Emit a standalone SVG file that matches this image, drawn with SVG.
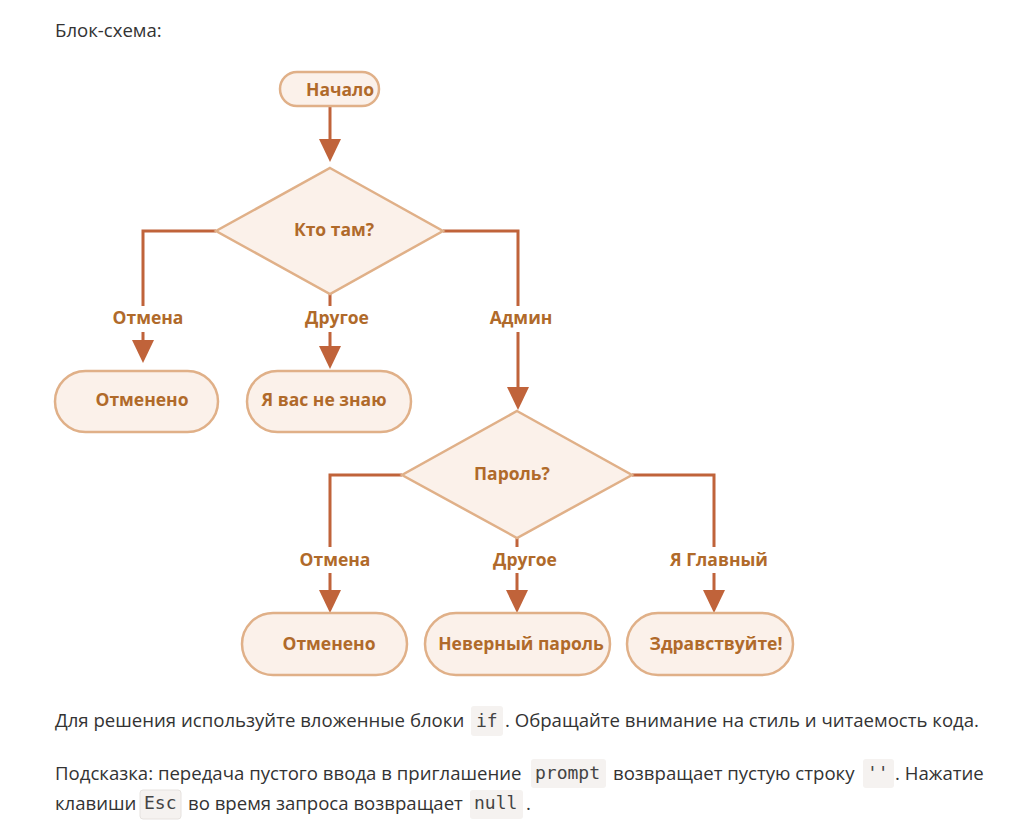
<svg xmlns="http://www.w3.org/2000/svg" width="1025" height="840" viewBox="0 0 1025 840">
<style>
.node{fill:#fbf1ea;stroke:#e0b088;stroke-width:2.5}
.nt{font-family:"Open Sans","Liberation Sans",sans-serif;font-weight:bold;font-size:17.5px;fill:#b06a2a;dominant-baseline:central}
.lbl{font-family:"Open Sans","Liberation Sans",sans-serif;font-weight:bold;font-size:17.5px;fill:#b06a2a;text-anchor:middle;dominant-baseline:central}
.ln{fill:none;stroke:#c0633a;stroke-width:3}
.ah{fill:#c0633a}
.body{font-family:"Open Sans","Liberation Sans",sans-serif;font-size:18.6px;fill:#333}
.code{font-family:"DejaVu Sans Mono","Liberation Mono",monospace;font-size:18px;fill:#444}
.cbg{fill:#f5f2f0}
</style>
<rect width="1025" height="840" fill="#ffffff"/>
<text class="body" x="55" y="37">Блок-схема:</text>

<g id="connectors">
<path class="ln" d="M330 106V140"/>
<polygon class="ah" points="319,139 341,139 330,162"/>
<path class="ln" d="M216 231H143V306M143 332V341"/>
<polygon class="ah" points="132,340 154,340 143,363"/>
<path class="ln" d="M330 294V306M330 332V347"/>
<polygon class="ah" points="319,346 341,346 330,369"/>
<path class="ln" d="M443 231H518V306M518 332V388"/>
<polygon class="ah" points="507,387 529,387 518,410"/>
<path class="ln" d="M402 475H330V547M330 573V591"/>
<polygon class="ah" points="319,590 341,590 330,613"/>
<path class="ln" d="M517 538V547M517 573V591"/>
<polygon class="ah" points="506,590 528,590 517,613"/>
<path class="ln" d="M632 475H714V547M714 573V591"/>
<polygon class="ah" points="703,590 725,590 714,613"/>
<text class="lbl" x="148" y="317">Отмена</text>
<text class="lbl" x="337" y="317">Другое</text>
<text class="lbl" x="521" y="317">Админ</text>
<text class="lbl" x="335" y="559">Отмена</text>
<text class="lbl" x="525" y="559">Другое</text>
<text class="lbl" x="719" y="559">Я Главный</text>
</g>

<g id="start">
<rect class="node" x="280" y="72" width="99" height="34" rx="17"/>
<text class="nt" x="306" y="89">Начало</text>
</g>
<g id="who">
<polygon class="node" points="330,168 443,231 330,294 216,231"/>
<text class="nt" x="334" y="229" text-anchor="middle">Кто там?</text>
</g>
<g id="cancel1">
<rect class="node" x="55" y="371" width="163" height="61" rx="30.5"/>
<text class="nt" x="142" y="399" text-anchor="middle">Отменено</text>
</g>
<g id="unknown">
<rect class="node" x="247" y="371" width="164" height="61" rx="30.5"/>
<text class="nt" x="324" y="399" text-anchor="middle">Я вас не знаю</text>
</g>
<g id="password">
<polygon class="node" points="517,411 632,475 517,538 402,475"/>
<text class="nt" x="512" y="473" text-anchor="middle">Пароль?</text>
</g>
<g id="cancel2">
<rect class="node" x="242" y="613" width="165" height="62" rx="31"/>
<text class="nt" x="329" y="643" text-anchor="middle">Отменено</text>
</g>
<g id="wrong">
<rect class="node" x="425" y="613" width="185" height="62" rx="31"/>
<text class="nt" x="521" y="643" text-anchor="middle">Неверный пароль</text>
</g>
<g id="hello">
<rect class="node" x="627" y="613" width="166" height="62" rx="31"/>
<text class="nt" x="716" y="643" text-anchor="middle">Здравствуйте!</text>
</g>

<rect class="cbg" x="471" y="706" width="32" height="30" rx="3"/>
<text class="body" x="55" y="727">Для решения используйте вложенные блоки</text>
<text class="code" x="476" y="727">if</text>
<text class="body" x="505" y="727">. Обращайте внимание на стиль и читаемость кода.</text>

<rect class="cbg" x="531" y="759" width="75" height="29" rx="3"/>
<rect class="cbg" x="863" y="759" width="31" height="29" rx="3"/>
<text class="body" x="55" y="780">Подсказка: передача пустого ввода в приглашение</text>
<text class="code" x="535" y="779">prompt</text>
<text class="body" x="613" y="780">возвращает пустую строку</text>
<text class="code" x="867" y="779">''</text>
<text class="body" x="895" y="780">. Нажатие</text>

<rect class="cbg" x="140" y="790" width="41" height="29" rx="3" stroke="#e6e2df" stroke-width="1"/>
<rect class="cbg" x="470" y="790" width="53" height="29" rx="3"/>
<text class="body" x="55" y="810">клавиши</text>
<text class="code" x="144" y="809">Esc</text>
<text class="body" x="188" y="810">во время запроса возвращает</text>
<text class="code" x="474" y="809">null</text>
<text class="body" x="526" y="810">.</text>
</svg>
